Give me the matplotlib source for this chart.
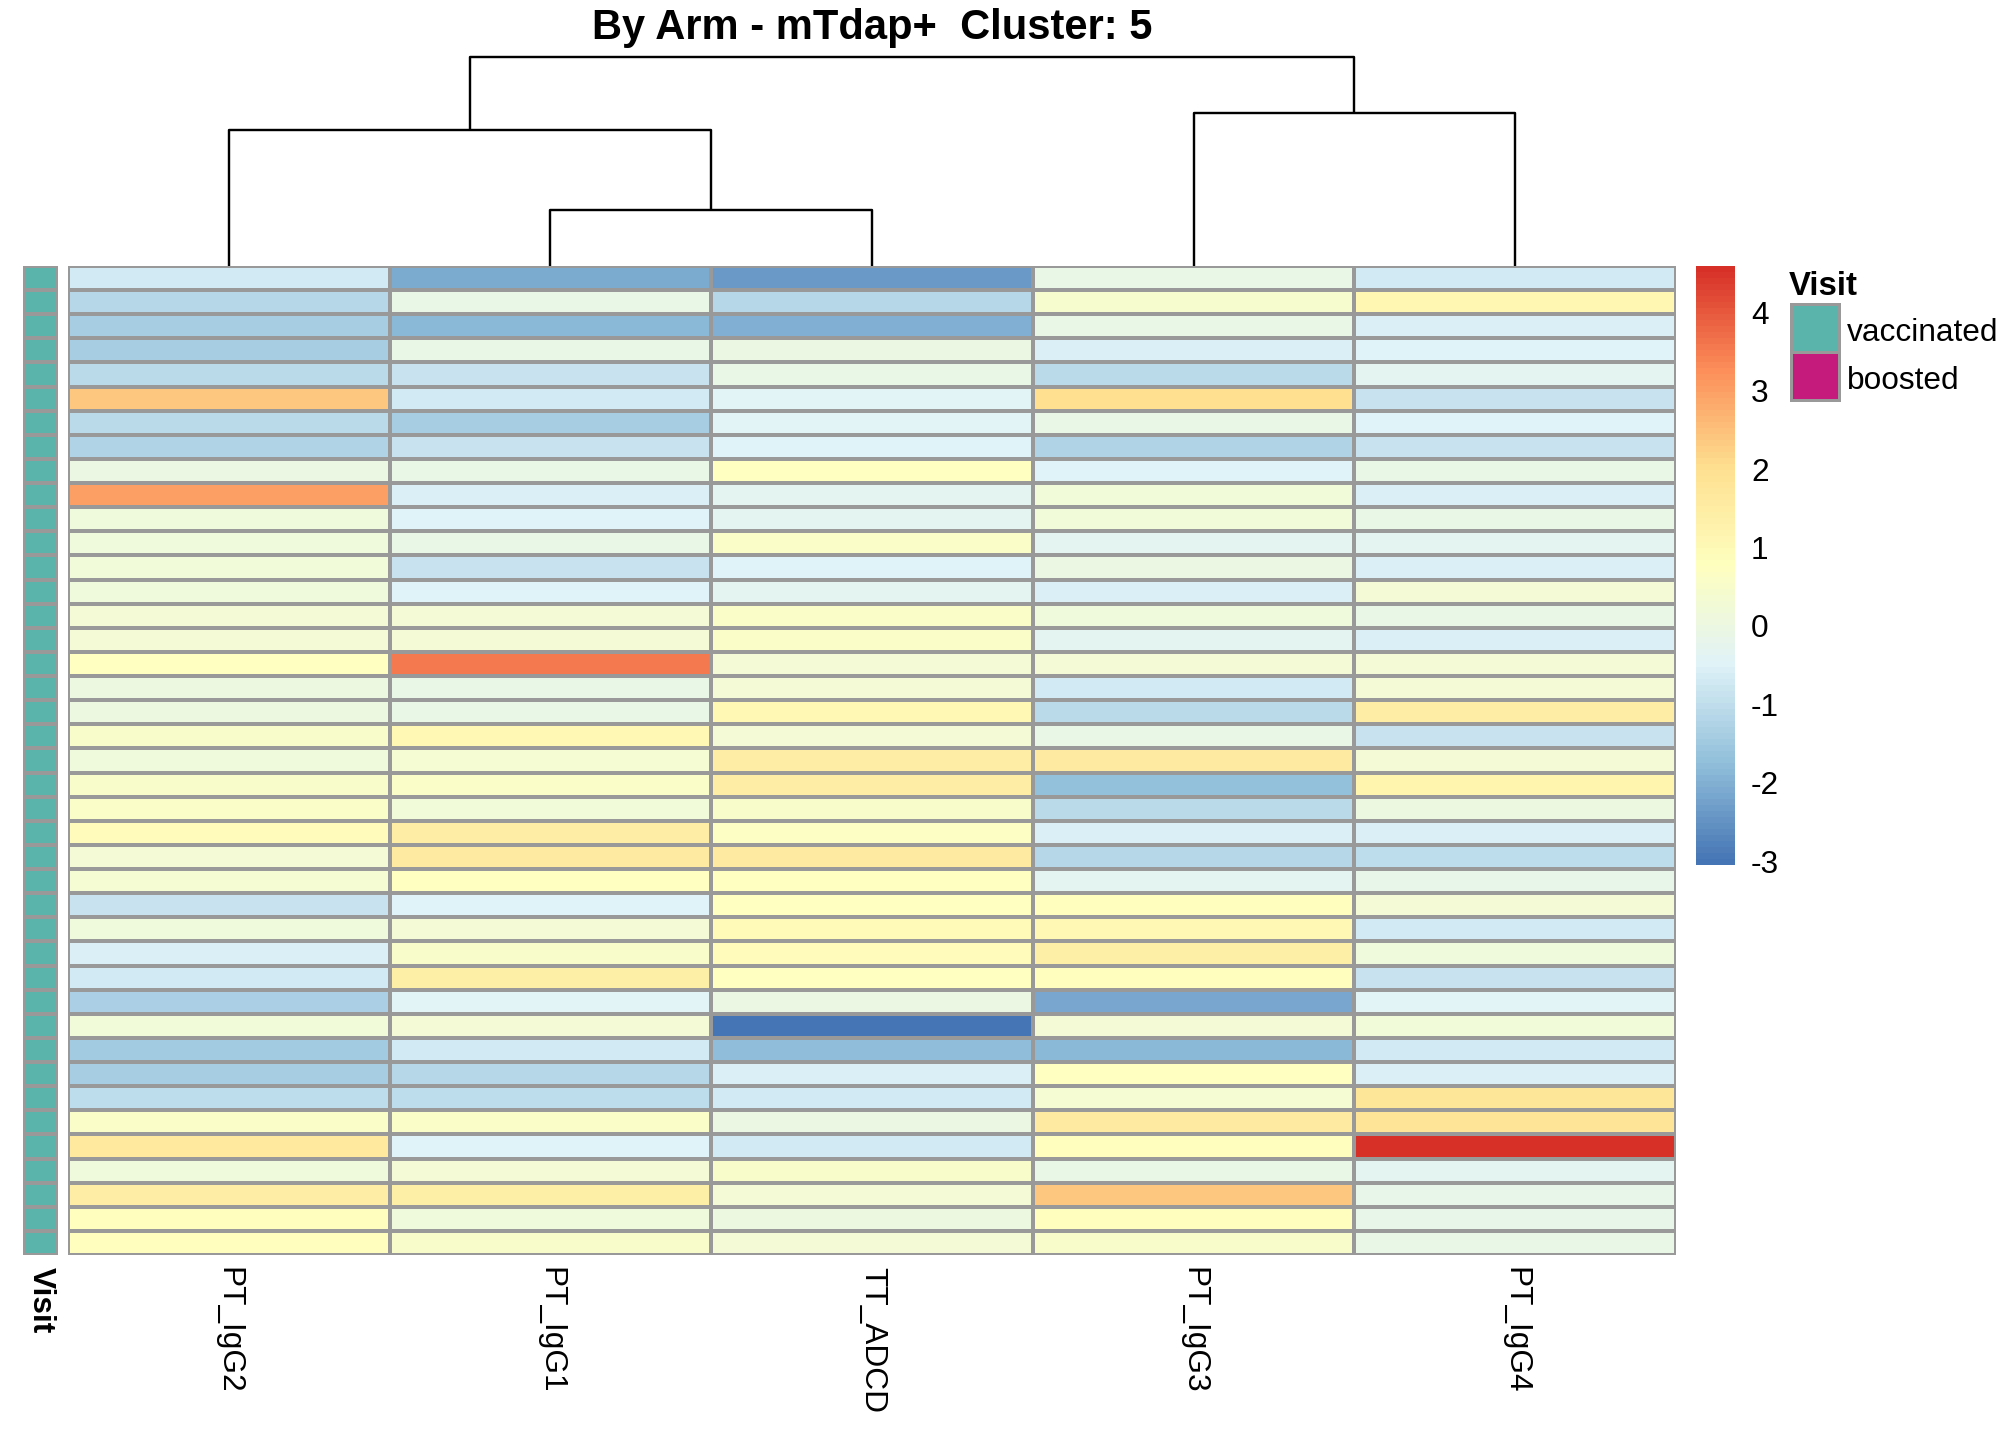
import numpy as np
import matplotlib
matplotlib.use("Agg")
import matplotlib.pyplot as plt
from matplotlib.colors import LinearSegmentedColormap, ListedColormap, BoundaryNorm
from matplotlib.patches import Rectangle

plt.rcParams['font.family'] = ['Liberation Sans', 'DejaVu Sans']

# ---- data (column order as drawn, rows top to bottom) ----
col_names = ['PT_IgG2', 'PT_IgG1', 'TT_ADCD', 'PT_IgG3', 'PT_IgG4']

pt_igg2 = [-0.7, -1.15, -1.4, -1.4, -1.1, 2.4, -1.1, -1.25, 0.0, 3.0,
           0.15, 0.15, 0.2, 0.15, 0.3, 0.25, 0.75, 0.05, 0.05, 0.5,
           0.15, 0.5, 0.6, 0.85, 0.3, 0.35, -0.85, 0.15, -0.6, -0.75,
           -1.3, 0.2, -1.45, -1.4, -1.05, 0.6, 1.65, 0.15, 1.5, 0.8, 0.8]
pt_igg1 = [-2.1, -0.1, -1.9, -0.1, -0.9, -0.7, -1.4, -0.85, -0.1, -0.6,
           -0.5, -0.1, -0.9, -0.5, 0.3, 0.25, 3.55, -0.1, -0.1, 1.0,
           0.35, 0.6, 0.2, 1.5, 1.55, 0.75, -0.5, 0.3, 0.5, 1.4,
           -0.4, 0.25, -0.7, -1.15, -1.0, 0.6, -0.5, 0.3, 1.4, 0.15, 0.5]
tt_adcd = [-2.4, -1.15, -2.0, 0.0, -0.1, -0.4, -0.4, -0.5, 0.75, -0.3,
           -0.3, 0.6, -0.5, -0.3, 0.6, 0.6, 0.3, 0.3, 1.05, 0.3,
           1.5, 1.5, 0.5, 0.65, 1.55, 0.75, 0.75, 0.95, 0.85, 0.75,
           0.0, -3.05, -1.8, -0.6, -0.75, 0.0, -0.75, 0.5, 0.3, 0.05, 0.3]
pt_igg3 = [-0.1, 0.45, -0.1, -0.6, -1.1, 2.0, -0.1, -1.25, -0.5, 0.2,
           0.2, -0.3, 0.0, -0.6, 0.15, -0.3, 0.3, -0.75, -1.1, -0.1,
           1.55, -1.7, -1.1, -0.6, -1.2, -0.3, 0.8, 1.05, 1.45, 0.8,
           -2.2, 0.3, -1.85, 0.75, 0.35, 1.55, 0.8, -0.1, 2.45, 0.8, 0.5]
pt_igg4 = [-0.7, 1.15, -0.6, -0.5, -0.3, -0.85, -0.5, -0.85, -0.1, -0.6,
           -0.1, -0.3, -0.6, 0.3, -0.1, -0.6, 0.3, 0.3, 1.5, -0.85,
           0.3, 1.2, 0.05, -0.6, -1.05, -0.2, 0.3, -0.75, 0.15, -0.9,
           -0.4, 0.2, -0.75, -0.6, 1.8, 1.85, 4.59, -0.3, -0.2, -0.2, -0.1]

visit = ['vaccinated'] * 41
visit_levels = ['vaccinated', 'boosted']
visit_colors = {'vaccinated': '#5AB4AC', 'boosted': '#C51B7D'}

# column dendrogram: leaves 0..4, merges create nodes 5.. (left, right, height)
merges = [(1, 2, 0.27), (0, 5, 0.65), (3, 4, 0.73), (6, 7, 1.0)]

legend_ticks = [-3, -2, -1, 0, 1, 2, 3, 4]

mat = np.array([pt_igg2, pt_igg1, tt_adcd, pt_igg3, pt_igg4]).T
n_rows, n_cols = mat.shape
vmin, vmax = mat.min(), mat.max()

palette = ['#4575B4', '#91BFDB', '#E0F3F8', '#FFFFBF', '#FEE090', '#FC8D59', '#D73027']
cmap = LinearSegmentedColormap.from_list('rdylbu_r', palette, N=100)
norm = BoundaryNorm(np.linspace(vmin, vmax, 101), 100)

W, H = 2016, 1440
fig = plt.figure(figsize=(14, 10), dpi=144)


def px_axes(x0, y0, x1, y1):
    return fig.add_axes([x0 / W, 1 - y1 / H, (x1 - x0) / W, (y1 - y0) / H])


grid_col = '#999999'
hm_left, hm_right, hm_top, hm_bottom = 68, 1676, 266, 1255

# heatmap
ax = px_axes(hm_left, hm_top, hm_right, hm_bottom)
ax.pcolormesh(mat, cmap=cmap, norm=norm, edgecolors=grid_col, linewidth=1.1)
ax.set_xlim(0, n_cols)
ax.set_ylim(n_rows, 0)
for s in ax.spines.values():
    s.set_visible(False)
ax.set_yticks([])
ax.set_xticks(np.arange(n_cols) + 0.5)
ax.set_xticklabels(col_names, rotation=270, fontsize=15.8)
ax.tick_params(axis='x', length=0, pad=6)

# annotation column
ax_ann = px_axes(23, hm_top, 58, hm_bottom)
codes = np.array([[visit_levels.index(v)] for v in visit])
ann_cmap = ListedColormap([visit_colors[l] for l in visit_levels])
ax_ann.pcolormesh(codes, cmap=ann_cmap, vmin=-0.5, vmax=1.5,
                  edgecolors=grid_col, linewidth=1.1)
ax_ann.set_xlim(0, 1)
ax_ann.set_ylim(n_rows, 0)
for s in ax_ann.spines.values():
    s.set_visible(False)
ax_ann.set_yticks([])
ax_ann.set_xticks([0.5])
ax_ann.set_xticklabels(['Visit'], rotation=270, fontsize=15.8, fontweight='bold')
ax_ann.tick_params(axis='x', length=0, pad=6)

# dendrogram
ax_d = px_axes(hm_left, 57, hm_right, hm_top)
pos = {i: i + 0.5 for i in range(n_cols)}
hgt = {i: 0.0 for i in range(n_cols)}
for k, (a, b, h) in enumerate(merges):
    node = n_cols + k
    ax_d.plot([pos[a], pos[a], pos[b], pos[b]], [hgt[a], h, h, hgt[b]],
              color='black', lw=1.2, solid_capstyle='butt', clip_on=False)
    pos[node] = (pos[a] + pos[b]) / 2
    hgt[node] = h
ax_d.set_xlim(0, n_cols)
ax_d.set_ylim(0, 1.0)
ax_d.axis('off')

# colour legend
ax_c = px_axes(1696, hm_top, 1735, 865)
grad = np.linspace(vmin, vmax, 100)[:, None]
ax_c.imshow(grad, cmap=cmap, norm=norm, origin='lower', aspect='auto',
            extent=[0, 1, vmin, vmax])
ax_c.set_xticks([])
ax_c.yaxis.tick_right()
ax_c.set_yticks(legend_ticks)
ax_c.set_yticklabels([str(t) for t in legend_ticks], fontsize=15.8)
ax_c.tick_params(axis='y', length=0, pad=8)
for s in ax_c.spines.values():
    s.set_visible(False)

# overlay for title and annotation legend
ov = fig.add_axes([0, 0, 1, 1])
ov.set_xlim(0, W)
ov.set_ylim(H, 0)
ov.axis('off')
ov.text((hm_left + hm_right) / 2, 39, 'By Arm - mTdap+  Cluster: 5', ha='center',
        va='baseline', fontsize=20.8, fontweight='bold')
ov.text(1789, 295, 'Visit', ha='left', va='baseline', fontsize=16.5, fontweight='bold')
for i, lvl in enumerate(visit_levels):
    y0 = 304 + i * 48
    ov.add_patch(Rectangle((1791, y0), 48, 48, facecolor=visit_colors[lvl],
                           edgecolor=grid_col, lw=1.5))
    ov.text(1847, y0 + 37, lvl, ha='left', va='baseline', fontsize=15.8)

fig.savefig('out.png', dpi=144, facecolor='white')
